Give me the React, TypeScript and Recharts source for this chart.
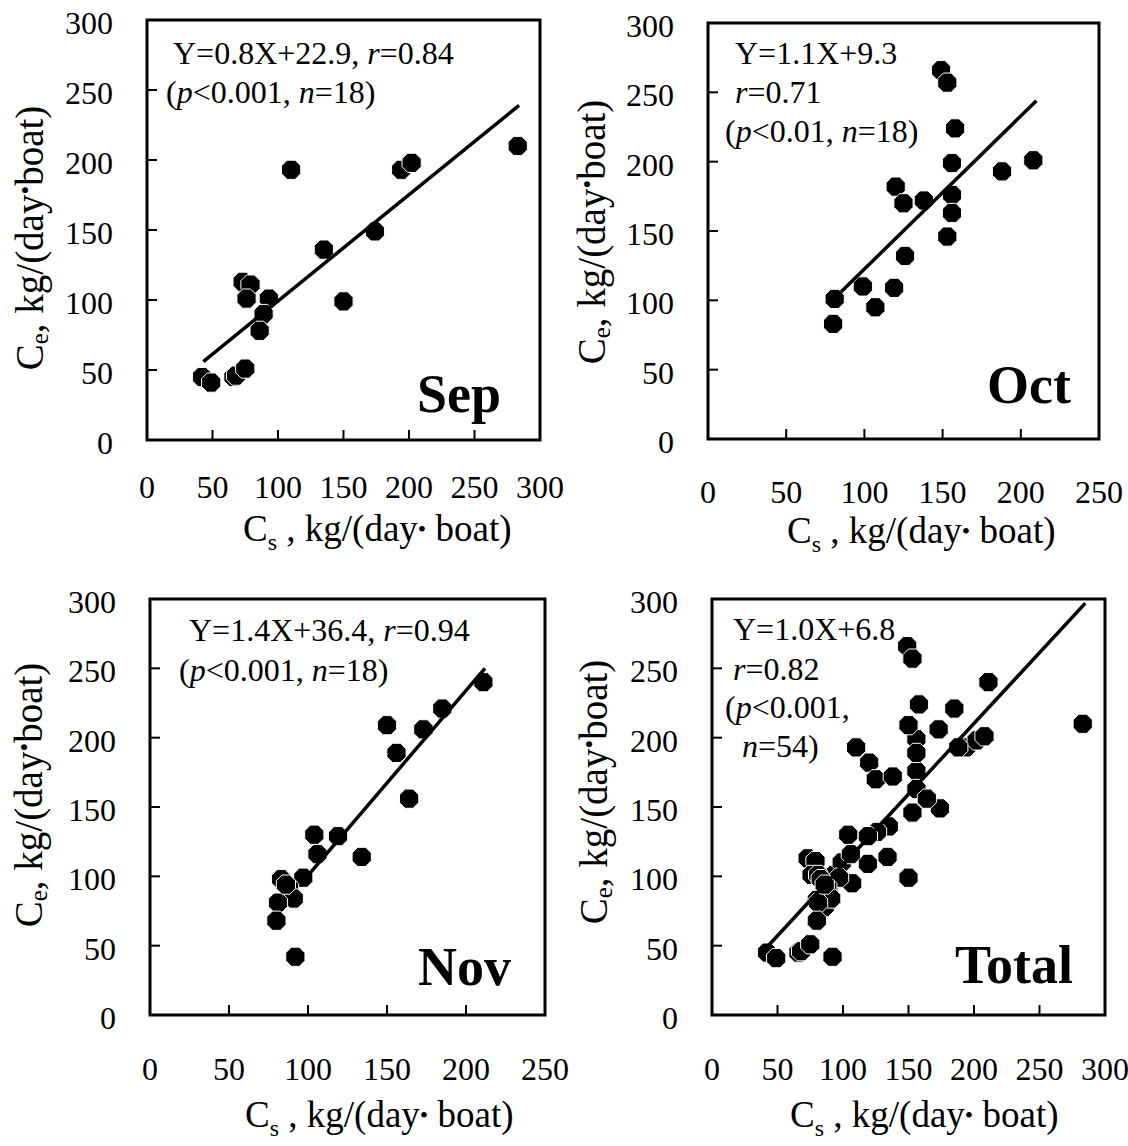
import React from 'react'
import { ScatterChart, Scatter, XAxis, YAxis, ReferenceArea } from 'recharts'

const FONT = '"Liberation Serif", "Times New Roman", serif'

// Sep
const sepCs = [42, 49, 66, 68, 75, 110, 73, 79, 76, 93, 89, 86, 135, 150, 174, 194, 202, 283]
const sepCe = [45, 41, 45, 46, 51, 193, 113, 111, 101, 101, 90, 78, 136, 99, 149, 193, 198, 210]
const sepFitCs = [43, 284]
const sepFitCe = [56, 239]

// Oct
const octCs = [149, 153, 158, 156, 208, 188, 120, 125, 138, 156, 156, 153, 126, 99, 119, 107, 81, 80]
const octCe = [266, 257, 224, 199, 201, 193, 182, 170, 172, 176, 163, 146, 132, 110, 109, 95, 101, 83]
const octFitCs = [85, 210]
const octFitCe = [106, 244]

// Nov
const novCs = [211, 185, 173, 150, 156, 164, 104, 119, 106, 134, 97, 83, 88, 91, 81, 80, 92, 86]
const novCe = [240, 221, 206, 209, 189, 156, 130, 129, 116, 114, 99, 98, 92, 84, 81, 68, 42, 94]
const novFitCs = [98, 212]
const novFitCe = [98, 250]

// Total = all three months
const totalCs = [...sepCs, ...octCs, ...novCs]
const totalCe = [...sepCe, ...octCe, ...novCe]
const totalFitCs = [41, 285]
const totalFitCe = [48, 297]

const ticks300 = [0, 50, 100, 150, 200, 250, 300]
const ticks250 = [0, 50, 100, 150, 200, 250]
const yTicks = [0, 50, 100, 150, 200, 250, 300]

const toPoints = (xs: number[], ys: number[]) => xs.map((x, i) => ({ x, y: ys[i] }))

const Y_GAP = 34
const TICK_LEN = 10

const Octagon = (props: any) => {
  const { cx, cy } = props
  if (cx == null || cy == null) return <g />
  const r = 10.4
  const pts = Array.from({ length: 8 }, (_, k) => {
    const a = Math.PI / 8 + (k * Math.PI) / 4
    return `${cx + r * Math.cos(a)},${cy + r * Math.sin(a)}`
  }).join(' ')
  return <polygon points={pts} fill="#000" stroke="#fff" strokeWidth={1} />
}

const YTick = (props: any) => {
  const { x, y, payload } = props
  return (
    <g>
      <line x1={x + Y_GAP} x2={x + Y_GAP + TICK_LEN} y1={y} y2={y} stroke="#000" strokeWidth={2} />
      <text x={x} y={y + 3} textAnchor="end" dominantBaseline="central" fontFamily={FONT} fontSize={32} fill="#000">
        {payload.value}
      </text>
    </g>
  )
}

const makeXTick = (gap: number) => (props: any) => {
  const { x, y, payload } = props
  return (
    <g>
      <line x1={x} x2={x} y1={y - gap} y2={y - gap - TICK_LEN} stroke="#000" strokeWidth={2} />
      <text x={x} y={y} textAnchor="middle" fontFamily={FONT} fontSize={32} fill="#000">
        {payload.value}
      </text>
    </g>
  )
}

interface PanelProps {
  left: number
  top: number
  width: number
  height: number
  plotLeft: number
  plotRight: number
  plotTop: number
  plotBottom: number
  xMax: number
  xTicks: number[]
  labelGap: number
  xs: number[]
  ys: number[]
  fitX: number[]
  fitY: number[]
}

function Panel(p: PanelProps) {
  return (
    <div style={{ position: 'absolute', left: p.left, top: p.top }}>
      <ScatterChart
        width={p.width}
        height={p.height}
        margin={{ top: p.plotTop - p.top, right: p.left + p.width - p.plotRight, bottom: 0, left: 0 }}
      >
        <XAxis
          type="number"
          dataKey="x"
          domain={[0, p.xMax]}
          ticks={p.xTicks}
          interval={0}
          axisLine={false}
          tickLine={false}
          tickSize={0}
          tickMargin={p.labelGap}
          height={p.top + p.height - p.plotBottom}
          tick={makeXTick(p.labelGap)}
        />
        <YAxis
          type="number"
          dataKey="y"
          domain={[0, 300]}
          ticks={yTicks}
          interval={0}
          axisLine={false}
          tickLine={false}
          tickSize={0}
          tickMargin={Y_GAP}
          width={p.plotLeft - p.left}
          tick={YTick}
        />
        <ReferenceArea x1={0} x2={p.xMax} y1={0} y2={300} fill="none" fillOpacity={0} stroke="#000" strokeWidth={3} />
        <Scatter data={toPoints(p.xs, p.ys)} shape={Octagon} isAnimationActive={false} />
        <Scatter
          data={toPoints(p.fitX, p.fitY)}
          line={{ stroke: '#000', strokeWidth: 3.5 }}
          shape={() => <g />}
          isAnimationActive={false}
        />
      </ScatterChart>
    </div>
  )
}

const XTitle = ({ x, y }: { x: number; y: number }) => (
  <text x={x} y={y} fontFamily={FONT} fontSize={37} fill="#000">
    C<tspan fontSize={24} dy={9}>s</tspan>
    <tspan dy={-9}> , kg/(day</tspan>
    <tspan fontSize={24} dy={-4}>•</tspan>
    <tspan dy={4}> boat)</tspan>
  </text>
)

const YTitle = ({ x, y }: { x: number; y: number }) => (
  <text
    transform={`translate(${x},${y}) rotate(-90)`}
    textAnchor="middle"
    dominantBaseline="central"
    fontFamily={FONT}
    fontSize={39}
    fill="#000"
  >
    C<tspan fontSize={25} dy={10}>e</tspan>
    <tspan dy={-10}>, kg/(day</tspan>
    <tspan fontSize={25} dy={-4}>•</tspan>
    <tspan dy={4}>boat)</tspan>
  </text>
)

const it = { fontStyle: 'italic' as const }

export default function App() {
  return (
    <div style={{ position: 'absolute', left: 0, top: 0, width: 1128, height: 1146, background: '#fff' }}>
      <Panel
        left={0} top={0} width={600} height={570}
        plotLeft={147} plotRight={540} plotTop={20} plotBottom={440}
        xMax={300} xTicks={ticks300} labelGap={58}
        xs={sepCs} ys={sepCe} fitX={sepFitCs} fitY={sepFitCe}
      />
      <Panel
        left={560} top={0} width={568} height={570}
        plotLeft={708} plotRight={1099} plotTop={23} plotBottom={439}
        xMax={250} xTicks={ticks250} labelGap={64}
        xs={octCs} ys={octCe} fitX={octFitCs} fitY={octFitCe}
      />
      <Panel
        left={0} top={575} width={600} height={571}
        plotLeft={150} plotRight={545} plotTop={599} plotBottom={1015}
        xMax={250} xTicks={ticks250} labelGap={65}
        xs={novCs} ys={novCe} fitX={novFitCs} fitY={novFitCe}
      />
      <Panel
        left={560} top={575} width={568} height={571}
        plotLeft={712} plotRight={1105} plotTop={599} plotBottom={1015}
        xMax={300} xTicks={ticks300} labelGap={65}
        xs={totalCs} ys={totalCe} fitX={totalFitCs} fitY={totalFitCe}
      />

      <svg
        width={1128}
        height={1146}
        style={{ position: 'absolute', left: 0, top: 0, pointerEvents: 'none' }}
      >
        <XTitle x={243} y={541} />
        <XTitle x={787} y={543} />
        <XTitle x={245} y={1127} />
        <XTitle x={790} y={1127} />
        <YTitle x={29} y={238} />
        <YTitle x={591} y={232} />
        <YTitle x={28} y={795} />
        <YTitle x={593} y={792} />

        <g fontFamily={FONT} fontSize={32} fill="#000">
          <text x={173} y={64}>Y=0.8X+22.9, <tspan {...it}>r</tspan>=0.84</text>
          <text x={166} y={103}>(<tspan {...it}>p</tspan>&lt;0.001, <tspan {...it}>n</tspan>=18)</text>

          <text x={735} y={64}>Y=1.1X+9.3</text>
          <text x={735} y={103}><tspan {...it}>r</tspan>=0.71</text>
          <text x={725} y={142}>(<tspan {...it}>p</tspan>&lt;0.01, <tspan {...it}>n</tspan>=18)</text>

          <text x={189} y={641}>Y=1.4X+36.4, <tspan {...it}>r</tspan>=0.94</text>
          <text x={179} y={681}>(<tspan {...it}>p</tspan>&lt;0.001, <tspan {...it}>n</tspan>=18)</text>

          <text x={733} y={640}>Y=1.0X+6.8</text>
          <text x={733} y={680}><tspan {...it}>r</tspan>=0.82</text>
          <text x={725} y={718}>(<tspan {...it}>p</tspan>&lt;0.001,</text>
          <text x={742} y={757}><tspan {...it}>n</tspan>=54)</text>
        </g>

        <g fontFamily={FONT} fontSize={54} fontWeight="bold" fill="#000" textAnchor="end">
          <text x={501} y={412}>Sep</text>
          <text x={1071} y={403}>Oct</text>
          <text x={511} y={985}>Nov</text>
          <text x={1073} y={983}>Total</text>
        </g>
      </svg>
    </div>
  )
}
